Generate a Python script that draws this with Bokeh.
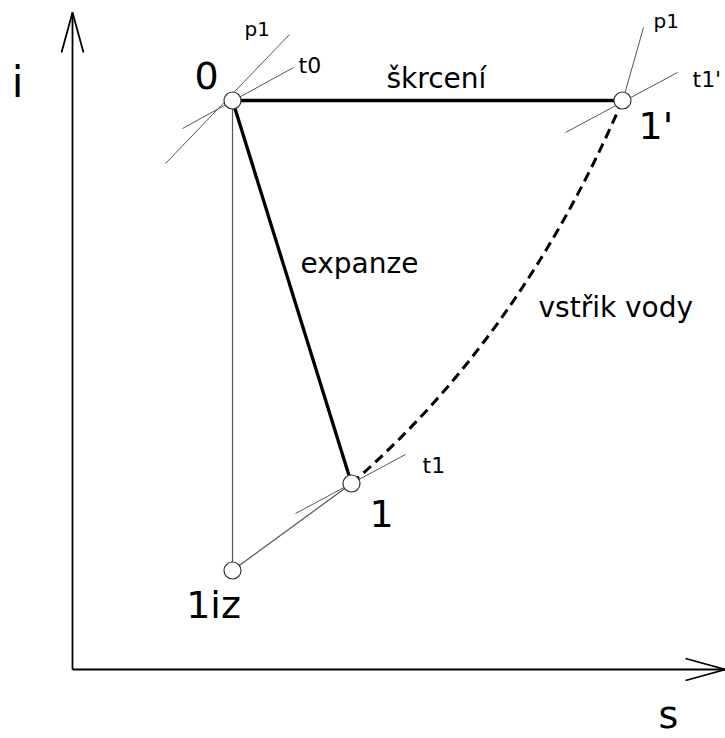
from bokeh.plotting import figure
from bokeh.models import Range1d
from bokeh.core.properties import value
from bokeh.embed import file_html
from bokeh.resources import INLINE

# ---- state points (entropy s, enthalpy i), diagram units ----
point_names = ["0", "1'", "1", "1iz"]
point_s = [160, 550, 279, 160]
point_i = [569, 569, 186, 99]

# ---- processes between state points ----
thick_from = ["0", "0"]          # škrcení, expanze
thick_to = ["1'", "1"]
thin_from = ["0", "1iz"]         # isentropic drop, line 1iz -> 1
thin_to = ["1iz", "1"]

# water injection path 1 -> 1' (quadratic curve, control point)
inject_ctrl_s = 448
inject_ctrl_i = 332

# ---- local isobars / isotherms through the points ----
tan_names = ["p1", "t0", "p1", "t1'", "t1"]
tan_s0 = [93, 110, 550, 493, 223]
tan_i0 = [506, 541, 568, 537, 156]
tan_s1 = [217, 221, 571, 605, 333]
tan_i1 = [635, 602, 642, 597, 215]

# ---- axes extent ----
s_max = 653
i_max = 657

pos = dict(zip(point_names, zip(point_s, point_i)))

FONT = value("DejaVu Sans")
LIFT = 0.35   # baseline correction, fraction of the font size


def label(x, y, txt, size, dx=0, dy=0, align="left"):
    p.text(x=[x], y=[y], text=[txt], x_offset=dx, y_offset=dy - LIFT * size,
           text_align=align, text_baseline="alphabetic", text_font=FONT,
           text_font_size=f"{size}px", text_color="black")


p = figure(width=725, height=738, x_range=Range1d(-72, 653), y_range=Range1d(-69, 669),
           output_backend="svg", toolbar_location=None,
           x_axis_location=None, y_axis_location=None, min_border=0)
p.grid.visible = False
p.outline_line_color = None
p.background_fill_color = "white"
p.border_fill_color = "white"

# axes with open arrow heads
head_len, head_half = 40, 11
axis_style = dict(line_color="black", line_width=1.8)
p.line([0, s_max], [0, 0], **axis_style)
p.line([0, 0], [0, i_max], **axis_style)
p.line([s_max - head_len, s_max, s_max - head_len], [head_half, 0, -head_half], **axis_style)
p.line([-head_half, 0, head_half], [i_max - head_len, i_max, i_max - head_len], **axis_style)

# isobars / isotherms
p.segment(x0=tan_s0, y0=tan_i0, x1=tan_s1, y1=tan_i1, line_color="#555555", line_width=1)

# thin process lines
p.segment(x0=[pos[a][0] for a in thin_from], y0=[pos[a][1] for a in thin_from],
          x1=[pos[b][0] for b in thin_to], y1=[pos[b][1] for b in thin_to],
          line_color="#555555", line_width=1.2)

# thick process lines
p.segment(x0=[pos[a][0] for a in thick_from], y0=[pos[a][1] for a in thick_from],
          x1=[pos[b][0] for b in thick_to], y1=[pos[b][1] for b in thick_to],
          line_color="black", line_width=3.3)

# water injection curve
p.quadratic(x0=[pos["1"][0]], y0=[pos["1"][1]], x1=[pos["1'"][0]], y1=[pos["1'"][1]],
            cx=[inject_ctrl_s], cy=[inject_ctrl_i],
            line_color="black", line_width=3, line_dash="10 6")

# state point markers
p.scatter(point_s, point_i, size=17, fill_color="white", line_color="#333333", line_width=1.2)

# point labels
big_dx = [-26, 16, 30, -19]
big_dy = [-12, 39, 43, 48]
for n, dx, dy in zip(point_names, big_dx, big_dy):
    label(pos[n][0], pos[n][1], n, 38, dx, dy, "left" if n == "1'" else "center")

# isobar / isotherm labels, anchored at the upper line end
tan_dx = [-45, 5, 10, 15, 17]
tan_dy = [1, 6, 0, 15, 19]
tan_size = [20, 22, 20, 22, 22]
for n, sx, iy, dx, dy, fs in zip(tan_names, tan_s1, tan_i1, tan_dx, tan_dy, tan_size):
    label(sx, iy, n, fs, dx, dy)

# process names
label(314, 581, "škrcení", 28)
label(228, 396, "expanze", 28)
label(466, 352, "vstřik vody", 28)

# axis names
label(-55, 572, "i", 42, align="center")
label(596, -59, "s", 38, align="center")

open("out.html", "w").write(file_html(p, INLINE))
